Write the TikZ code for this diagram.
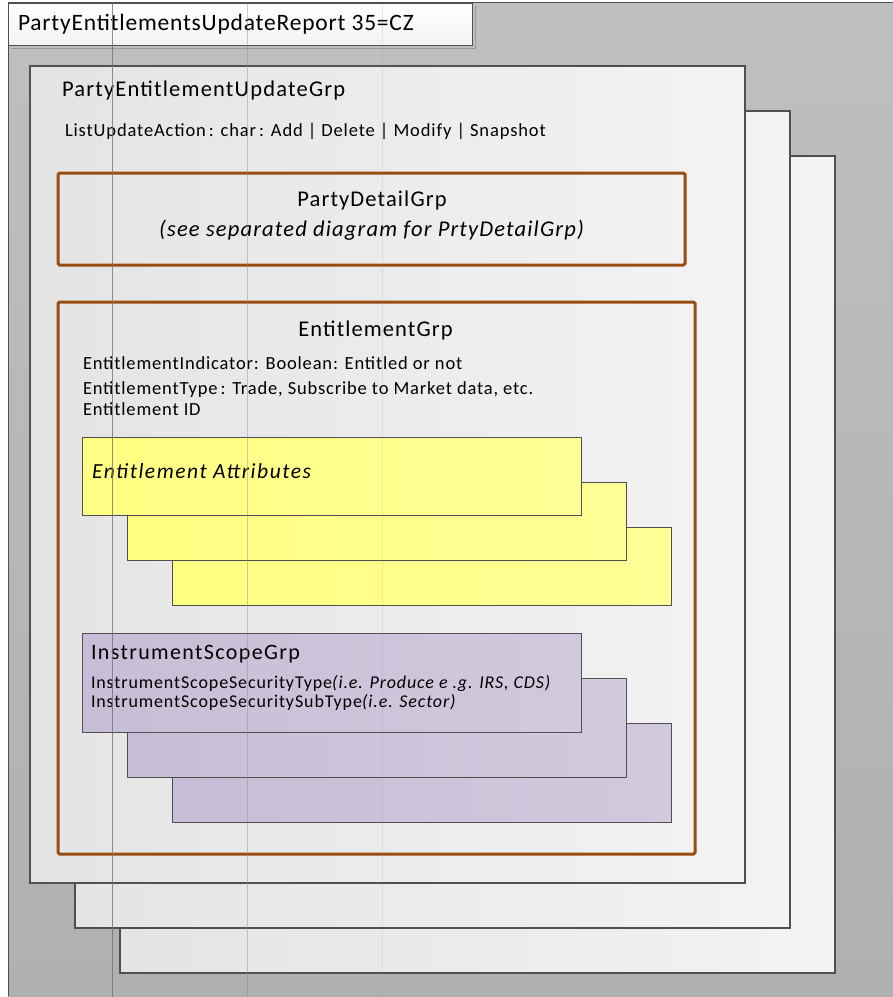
\documentclass[tikz,border=0pt]{standalone}
\usepackage{fontspec}
\setmainfont{Carlito}
\newcommand\lsp[1]{\addfontfeature{LetterSpace=#1}}
\definecolor{bgtop}{RGB}{191,191,191}
\definecolor{bgbot}{RGB}{176,176,176}
\definecolor{frame}{RGB}{80,80,80}
\definecolor{brownline}{RGB}{153,76,18}
\definecolor{grpL}{RGB}{228,228,228}
\definecolor{grpR}{RGB}{243,243,243}
\definecolor{yelL}{RGB}{255,255,130}
\definecolor{yelR}{RGB}{255,255,150}
\definecolor{purL}{RGB}{199,189,214}
\definecolor{purR}{RGB}{210,201,222}
\tikzset{
  box/.style={anchor=north west, inner sep=0pt, outer sep=0pt},
  bgpanel/.style={box, top color=bgtop, bottom color=bgbot},
  grpbox/.style={box, draw=frame, line width=1.2pt, left color=grpL, right color=grpR, minimum width=715pt, minimum height=817pt},
  titlebox/.style={box, draw=frame, line width=1pt, top color=white, bottom color=grpR, minimum width=464pt, minimum height=42pt},
  brownbox/.style={box, draw=brownline, line width=3pt, rounded corners=1.5pt},
  yelbox/.style={box, draw=frame, line width=1pt, left color=yelL, right color=yelR, minimum width=499pt, minimum height=78pt},
  purbox/.style={box, draw=frame, line width=1pt, left color=purL, right color=purR, minimum width=499pt, minimum height=99pt},
  txt/.style={anchor=base west, inner sep=0pt, outer sep=0pt, text=black},
  ctxt/.style={anchor=base, inner sep=0pt, outer sep=0pt, text=black},
  seam/.style={line width=0.8pt}
}
\begin{document}
\begin{tikzpicture}[x=1pt,y=-1pt]
\useasboundingbox (0,0) rectangle (893,997);
\fill[white] (0,0) rectangle (893,997);
% background panel
\node[bgpanel, minimum width=885pt, minimum height=994pt] (bg) at (8,2) {};
\draw[frame, line width=1pt] (bg.south west) -- (bg.north west) -- (bg.north east);
% title
\draw[gray!80, line width=1pt] (11,48) -- (475,48) -- (475,6);
\node[titlebox] (title) at (8,3) {};
\node[txt, font=\fontsize{23.5}{26}\selectfont\lsp{3.4}] (titletxt) at (18,30) {PartyEntitlementsUpdateReport 35=CZ};
% stacked group boxes
\node[grpbox] (g3) at (120,156) {};
\node[grpbox] (g2) at (75,111) {};
\node[grpbox] (g1) at (30,66) {};
\node[txt, font=\fontsize{22.5}{24}\selectfont\lsp{5.3}] (grpname) at (62,96.7) {PartyEntitlementUpdateGrp};
\node[txt, font=\fontsize{18.5}{20}\selectfont\lsp{4.7}] (lua) at (65,136) {ListUpdateAction\,: char\,: Add | Delete | Modify | Snapshot};
% PartyDetailGrp
\node[brownbox, minimum width=627pt, minimum height=92pt] (pd) at (58,173) {};
\node[ctxt, font=\fontsize{22.5}{24}\selectfont\lsp{5}] (pdtxt) at (372,206) {PartyDetailGrp};
\node[ctxt, font=\fontsize{22.5}{24}\selectfont\itshape\lsp{5.2}] (pdnote) at (371.5,236) {(see separated diagram for PrtyDetailGrp)};
% EntitlementGrp
\node[brownbox, minimum width=637pt, minimum height=552pt] (eg) at (58,302) {};
\node[ctxt, font=\fontsize{22.5}{24}\selectfont\lsp{4.8}] (egtxt) at (375.5,336) {EntitlementGrp};
\node[txt, font=\fontsize{18.5}{20}\selectfont\lsp{4.5}] (ei) at (83,369) {EntitlementIndicator: Boolean: Entitled or not};
\node[txt, font=\fontsize{18.5}{20}\selectfont\lsp{4.5}] (et) at (83,394) {EntitlementType\,: Trade, Subscribe to Market data, etc.};
\node[txt, font=\fontsize{18.5}{20}\selectfont\lsp{4.5}] (eid) at (83,415) {Entitlement ID};
% Entitlement attributes stack
\node[yelbox] (ya3) at (172,527) {};
\node[yelbox] (ya2) at (127,482) {};
\node[yelbox] (ya1) at (82,437) {};
\node[txt, font=\fontsize{21.5}{24}\selectfont\itshape\lsp{7.2}] (eatxt) at (92,478) {Entitlement Attributes};
% Instrument scope stack
\node[purbox] (ip3) at (172,723) {};
\node[purbox] (ip2) at (127,678) {};
\node[purbox] (ip1) at (82,633) {};
\node[txt, font=\fontsize{22}{24}\selectfont\lsp{6.2}] (istxt) at (91,659) {InstrumentScopeGrp};
\node[txt, font=\fontsize{18}{20}\selectfont\lsp{4.9}] (ist) at (91,688) {InstrumentScopeSecurityType\textit{(i.e. Produce e .g. IRS, CDS)}};
\node[txt, font=\fontsize{18}{20}\selectfont\lsp{4.9}] (iss) at (91,707) {InstrumentScopeSecuritySubType\textit{(i.e. Sector)}};
% seams
\coordinate (s1t) at (112,3); \coordinate (s1b) at (112,997);
\coordinate (s2t) at (247,3); \coordinate (s2b) at (247,997);
\coordinate (s3t) at (382,3); \coordinate (s3b) at (382,997);
\draw[seam, draw=black!55, opacity=0.8] (s1t) -- (s1b);
\draw[seam, draw=black!45, opacity=0.45] (s2t) -- (s2b);
\draw[seam, draw=black!40, opacity=0.2] (s3t) -- (s3b);
\end{tikzpicture}
\end{document}
